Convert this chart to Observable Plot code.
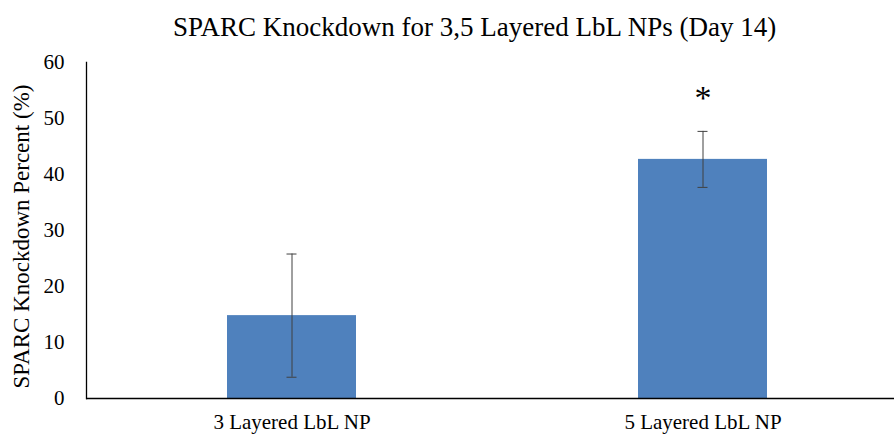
<!DOCTYPE html>
<html>
<head>
<meta charset="utf-8">
<script src="https://cdn.jsdelivr.net/npm/d3@7"></script>
<script src="https://cdn.jsdelivr.net/npm/@observablehq/plot@0.6"></script>
<style>
  body { margin: 0; font-size: 24px; }
</style>
</head>
<body>
<div style="font-family: 'Liberation Serif'; font-size: 27px; height: 50px; line-height: 30px; padding-left: 173px; padding-top: 12px; box-sizing: border-box; white-space: nowrap;">SPARC Knockdown for 3,5 Layered LbL NPs (Day 14)</div>
<div id="c"></div>
<script>
// Mean SPARC knockdown at day 14, with error bar half-widths
const groups = ["3 Layered LbL NP", "5 Layered LbL NP"];
const knockdown = [14.8, 42.7];
const errors = [11.0, 5.0];
const significance = ["", "*"];
const yTicks = [0, 10, 20, 30, 40, 50, 60];

const rows = groups.map((g, i) => ({
  group: g,
  value: knockdown[i],
  lo: knockdown[i] - errors[i],
  hi: knockdown[i] + errors[i],
  mark: significance[i]
}));

const font = "Liberation Serif";

const chart = Plot.plot({
  width: 894,
  height: 390,
  marginTop: 12,
  marginBottom: 42,
  marginLeft: 86,
  marginRight: 0,
  style: { fontFamily: "'Liberation Serif'", background: "#fff", color: "#000" },
  x: {
    domain: groups,
    range: [86, 908],
    paddingInner: 0.686,
    paddingOuter: 0.343,
    label: null
  },
  y: { domain: [0, 60], label: null },
  marks: [
    Plot.barY(rows, { x: "group", y: "value", fill: "#4f81bd" }),
    Plot.ruleX(rows, { x: "group", y1: "lo", y2: "hi", stroke: "#404040", strokeWidth: 1 }),
    Plot.tickY(rows, { x: "group", y: "hi", stroke: "#404040", strokeWidth: 1, insetLeft: 59.5, insetRight: 59.5 }),
    Plot.tickY(rows, { x: "group", y: "lo", stroke: "#404040", strokeWidth: 1, insetLeft: 59.5, insetRight: 59.5 }),
    Plot.text(rows, { x: "group", y: "hi", text: "mark", dy: -22, fontSize: 34, fontFamily: font, fill: "#000", lineAnchor: "bottom" }),
    Plot.ruleY([0], { stroke: "#000", strokeWidth: 1.3 }),
    Plot.frame({ anchor: "left", stroke: "#000", strokeWidth: 1.3 }),
    Plot.axisY({ ticks: yTicks, tickSize: 0, tickPadding: 22, fontSize: 21, fontFamily: font, label: null }),
    Plot.axisX({ tickSize: 0, tickPadding: 16, fontSize: 21, fontFamily: font, label: null }),
    Plot.text(["SPARC Knockdown Percent (%)"], {
      frameAnchor: "left", dx: -64.5, dy: 6, rotate: -90, textAnchor: "middle",
      fontSize: 23, fontFamily: font, fill: "#000"
    })
  ]
});

document.getElementById("c").appendChild(chart);
</script>
</body>
</html>
